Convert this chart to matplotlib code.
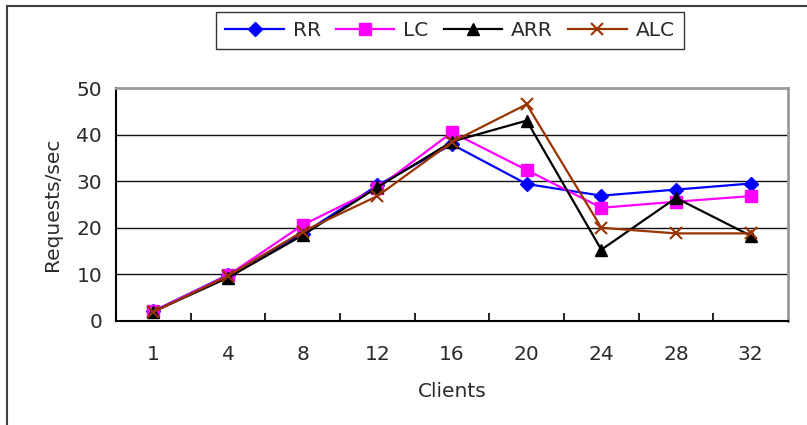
import matplotlib
matplotlib.use("Agg")
import matplotlib.pyplot as plt
from matplotlib.lines import Line2D

clients = ["1", "4", "8", "12", "16", "20", "24", "28", "32"]
rr = [2.1, 9.9, 18.7, 29.1, 37.9, 29.4, 26.9, 28.2, 29.5]
lc = [2.1, 9.8, 20.6, 28.5, 40.5, 32.4, 24.3, 25.6, 26.8]
arr = [2.0, 9.3, 18.4, 28.7, 38.5, 43.0, 15.3, 26.4, 18.3]
alc = [1.9, 9.7, 19.2, 26.8, 38.4, 46.5, 20.0, 18.8, 18.8]
yticks = [0, 10, 20, 30, 40, 50]

plt.rcParams['font.family'] = ['DejaVu Sans']

fig = plt.figure(figsize=(8.07, 4.25), dpi=100)
ax = fig.add_axes([116/807, 1-321/425, (788-116)/807, (321-88)/425])

x = list(range(len(clients)))
tc = '#2a2a2a'
series = [
    ("RR", rr, '#0000FF', 'D', 7, dict()),
    ("LC", lc, '#FF00FF', 's', 9, dict()),
    ("ARR", arr, '#000000', '^', 9, dict()),
    ("ALC", alc, '#993300', 'x', 9, dict(markeredgewidth=1.5)),
]
handles = []
for name, vals, col, mk, ms, kw in series:
    h, = ax.plot(x, vals, color=col, marker=mk, markersize=ms, lw=1.6,
                 markerfacecolor=col, markeredgecolor=col, label=name, **kw)
    handles.append(h)

ax.set_xlim(-0.5, len(clients) - 0.5)
ax.set_ylim(0, 50)
ax.set_yticks(yticks)
ax.set_xticks(x)
ax.set_xticklabels(clients)
ax.set_xticks([i + 0.5 for i in range(len(clients) - 1)], minor=True)
ax.tick_params(axis='x', which='major', length=0, pad=17, labelsize=14.5, labelcolor=tc)
ax.tick_params(axis='x', which='minor', direction='in', length=6, width=1.2, color='black')
ax.tick_params(axis='y', length=0, pad=10, labelsize=14.5, labelcolor=tc)

for yv in yticks[1:-1]:
    ax.axhline(yv, color='#111111', lw=1.0, zorder=0.5)

ax.spines['left'].set_color('black')
ax.spines['left'].set_linewidth(1.5)
ax.spines['bottom'].set_color('black')
ax.spines['bottom'].set_linewidth(1.5)
ax.spines['top'].set_color('#9a9a9a')
ax.spines['top'].set_linewidth(2)
ax.spines['right'].set_color('#9a9a9a')
ax.spines['right'].set_linewidth(2)

ax.set_xlabel("Clients", fontsize=14.5, labelpad=13, color=tc)
ax.set_ylabel("Requests/sec", fontsize=14.5, labelpad=10, color=tc)

leg = fig.legend(handles=handles, loc='center', bbox_to_anchor=(450/807, 1-30.5/425),
                 ncol=4, frameon=True, fancybox=False, fontsize=14.5,
                 handlelength=2.9, handletextpad=0.45, columnspacing=0.75,
                 borderpad=0.45, borderaxespad=0)
leg.get_frame().set_edgecolor('black')
leg.get_frame().set_linewidth(1.0)
for t in leg.get_texts():
    t.set_color(tc)

# outer frame (top and left edges visible)
fig.add_artist(Line2D([7/807, 7/807], [0, 1-6/425], transform=fig.transFigure,
                      color='#404040', lw=1.5))
fig.add_artist(Line2D([7/807, 1], [1-6/425, 1-6/425], transform=fig.transFigure,
                      color='#404040', lw=1.5))

fig.savefig("out.png", dpi=100)
